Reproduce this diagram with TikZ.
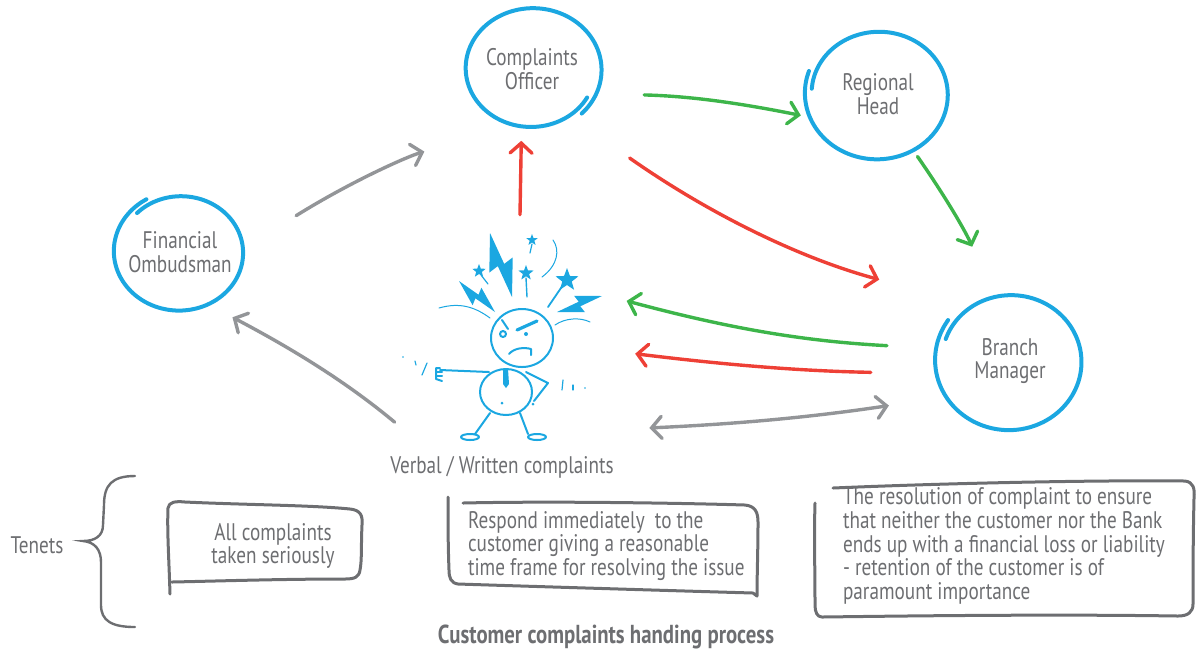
\documentclass[tikz,border=0pt]{standalone}
\usepackage{fontspec}
\setmainfont{PT Sans}[FakeStretch=0.8]
\usetikzlibrary{arrows.meta,shapes.geometric}

\definecolor{sky}{HTML}{1BA7E1}
\definecolor{leaf}{HTML}{3DB54A}
\definecolor{brick}{HTML}{EE4036}
\definecolor{ash}{HTML}{939598}
\definecolor{ink}{HTML}{6D6E71}

\newcommand\lbl{\fontsize{12}{11.9}\selectfont}

% loose hand drawn ring round a node: node, x radius, y radius, start angle
\newcommand\sketchring[4]{%
  \draw[ring, shift={(#1.center)}] plot[smooth, domain=0:375, samples=60, variable=\t]
    ({#2*(0.95+0.1*\t/375)*cos(\t+#4)}, {#3*(0.95+0.1*\t/375)*sin(\t+#4)});}

% small five pointed star: x, y, outer and inner radius
\newcommand\spark[4]{%
  \fill[shift={(#1,#2)}] (-90:#3) -- (-54:#4) -- (-18:#3) -- (18:#4) -- (54:#3)
    -- (90:#4) -- (126:#3) -- (162:#4) -- (198:#3) -- (234:#4) -- cycle;}

\tikzset{
  hub/.style={ellipse, draw=none, align=center, font=\lbl, text=ink},
  note/.style={draw=none, font=\lbl, text=ink},
  ring/.style={draw=sky, line width=2pt, line cap=round},
  flow/.style={line width=1.7pt, line cap=round,
    -{Straight Barb[length=5pt,width=11pt,line cap=round]}},
  twoway/.style={line width=1.7pt, line cap=round,
    {Straight Barb[length=5pt,width=11pt,line cap=round]}-{Straight Barb[length=5pt,width=11pt,line cap=round]}},
  sketchbox/.style={draw=ink, line width=1.5pt, line cap=round, line join=round},
  fig/.style={sky, line width=1pt, line cap=round, line join=round},
}

\begin{document}
\begin{tikzpicture}[x=0.5pt, y=-0.5pt]
  \useasboundingbox (0,0) rectangle (1197,655);

  % people in the process
  \node[hub, minimum width=67pt, minimum height=60pt] (co) at (532,69) {Complaints\\Officer};
  \node[hub, minimum width=70pt, minimum height=64pt] (rh) at (878,94) {Regional\\Head};
  \node[hub, minimum width=64pt, minimum height=58pt] (fo) at (180,252) {Financial\\Ombudsman};
  \node[hub, minimum width=72pt, minimum height=68pt] (bm) at (1010,361) {Branch\\Manager};
  \node[draw=none, minimum width=85pt, minimum height=120pt] (guy) at (520,335) {};
  \node[note] (vw) at (502,467) {Verbal / Written complaints};

  \sketchring{co}{67}{60}{30}
  \sketchring{rh}{70}{64}{185}
  \sketchring{fo}{64}{58}{225}
  \sketchring{bm}{72}{68}{200}

  % escalation
  \draw[flow, leaf, shorten <=22pt, shorten >=6pt] (co.-20) to[bend left=5] (rh.200);
  \draw[flow, leaf, shorten <=4pt, shorten >=26pt] (rh.-58) to[bend left=6] (bm.105);
  \draw[flow, brick, shorten >=6pt] (guy.north) -- (co.-100);
  \draw[flow, brick, shorten <=34pt, shorten >=47pt] (co.-50) to[bend right=10] (bm.125);
  \draw[flow, ash, shorten <=21pt, shorten >=45pt] (fo.10) to[bend left=8] (co.250);
  \draw[flow, ash, shorten <=26pt, shorten >=12pt] (guy.south west) to[bend right=6] (fo.-60);
  % replies back to the customer
  \draw[flow, leaf, shorten <=26pt, shorten >=11pt] (bm.170) to[bend left=6] (guy.25);
  \draw[flow, brick, shorten <=34pt, shorten >=15pt] (bm.190) to[bend left=3] (guy.-10);
  \draw[twoway, ash, shorten <=22pt, shorten >=30pt] (guy.-48) to[bend right=3] (bm.210);

  % the angry customer
  \begin{scope}[shift={(guy.center)}, fig]
    \draw (2,3) ellipse [x radius=31, y radius=29];
    \draw (-18,-15) -- (-12,-6);
    \draw[line width=1.6pt] (-3,-5) -- (17,-14);
    \draw (-17,-1) circle [radius=3];
    \fill (6,-1) circle [radius=2];
    \draw (-11,19) .. controls (-6,13) and (4,12) .. (11,14) -- (11,20);
    \draw (-14,57) ellipse [x radius=26, y radius=23];
    \fill (-17,34) -- (-12,34) -- (-11,49) -- (-14,53) -- (-17,49) -- cycle;
    \fill (-18,68) circle [radius=1.5];
    \fill (13,69) circle [radius=1.5];
    % arms
    \draw (-31,37) -- (-80,35);
    \draw (-80,33) -- (-84,33) -- (-84,44) -- (-78,46);
    \draw (-84,37) -- (-78,37);
    \draw (-84,41) -- (-78,41);
    \draw (6,37) -- (28,48) -- (14,66);
    % legs
    \draw (-30,78) -- (-45,99);
    \draw (0,78) -- (8,99);
    \draw (-50,102) ellipse [x radius=9, y radius=3];
    \draw (17,102) ellipse [x radius=9, y radius=3];
    % bolts
    \fill (-30,-102) -- (-30.7,-62.4) -- (-22.2,-68.9) -- (-8,-38) -- (-7.3,-77.6) -- (-15.8,-71.1) -- cycle;
    \fill (-61,-54) -- (-47.4,-29.8) -- (-44.6,-36.7) -- (-25,-23) -- (-38.6,-47.3) -- (-41.5,-40.3) -- cycle;
    \fill (82,-39) -- (54.1,-39.2) -- (58.7,-33.3) -- (37,-23) -- (65,-22.8) -- (60.3,-28.7) -- cycle;
    % stars
    \spark{-41}{-64}{7}{3}
    \draw[line width=0.6pt] (-39,-60) -- (-32,-51);
    \spark{6}{-62}{8}{3.3}
    \draw[line width=0.7pt] (6,-57) -- (7,-38);
    \spark{12}{-95}{6}{2.5}
    \draw[line width=0.6pt] (12,-91) -- (10,-82);
    \spark{47}{-55}{12}{5}
    \draw[line width=0.9pt] (43,-50) -- (28,-28);
    % thin strokes round the head
    \draw[line width=0.5pt] (22,-58) .. controls (38,-70) and (40,-85) .. (33,-95);
    \draw[line width=0.5pt] (-81,-27) .. controls (-60,-33) and (-45,-28) .. (-30,-17);
    \draw[line width=0.5pt] (35,-10) .. controls (45,-17) and (60,-18) .. (70,-13);
    \fill (-117,22) circle [radius=0.8];
    \draw[line width=0.6pt] (-105,26) -- (-104,30);
    \draw[line width=0.6pt] (-93,28) -- (-98,40);
    \draw[line width=0.6pt] (43,45) -- (42,55);
    \draw[line width=0.6pt] (53,50) -- (53,55);
    \fill (65,53) circle [radius=0.8];
  \end{scope}

  % tenets
  \node[note] (tn) at (37,545) {Tenets};
  \draw[draw=ink, line width=1.2pt, line cap=round]
    (135,476) .. controls (112,476) and (104,485) .. (104,505) -- (103,525)
    .. controls (103,536) and (95,541) .. (83,541)
    .. controls (95,542) and (101,550) .. (101,562) -- (101,605)
    .. controls (101,621) and (112,627) .. (135,627);

  \node[note, align=center] (t1) at (273,546) {All complaints\\taken seriously};
  \draw[sketchbox] (170,594) .. controls (169,560) and (167,530) .. (168,508)
    .. controls (169,502) and (175,501) .. (185,502) .. controls (250,505) and (310,505) .. (350,509)
    .. controls (360,510) and (363,515) .. (362,525) .. controls (361,545) and (362,560) .. (360,570)
    .. controls (359,577) and (355,579) .. (345,579) .. controls (280,579) and (220,581) .. (172,582);

  \node[note, align=left, anchor=west] (t2) at (461,546)
    {Respond immediately~ to the\\customer giving a reasonable\\time frame for resolving the issue};
  \draw[sketchbox] (463,503) .. controls (550,501) and (680,503) .. (745,505)
    .. controls (755,506) and (758,512) .. (758,522) .. controls (758,550) and (757,575) .. (757,596)
    -- (753,593) .. controls (650,590) and (520,586) .. (458,584)
    .. controls (451,583) and (449,578) .. (449,570) .. controls (448,545) and (448,520) .. (448,497);

  \node[note, align=left, anchor=west] (t3) at (836,546)
    {The resolution of complaint to ensure\\that neither the customer nor the Bank\\ends up with a financial loss or liability\\- retention of the customer is of\\paramount importance};
  \draw[sketchbox] (833,488) .. controls (950,483) and (1100,480) .. (1185,481)
    .. controls (1193,482) and (1195,488) .. (1194,498) .. controls (1193,540) and (1193,580) .. (1193,604)
    .. controls (1193,612) and (1188,616) .. (1178,616) .. controls (1050,614) and (900,616) .. (822,617)
    .. controls (817,617) and (815,612) .. (815,605) .. controls (815,570) and (814,535) .. (815,503);

  \node[note, font=\fontsize{13}{14}\selectfont\bfseries] (title) at (606,637) {Customer complaints handing process};
\end{tikzpicture}
\end{document}
